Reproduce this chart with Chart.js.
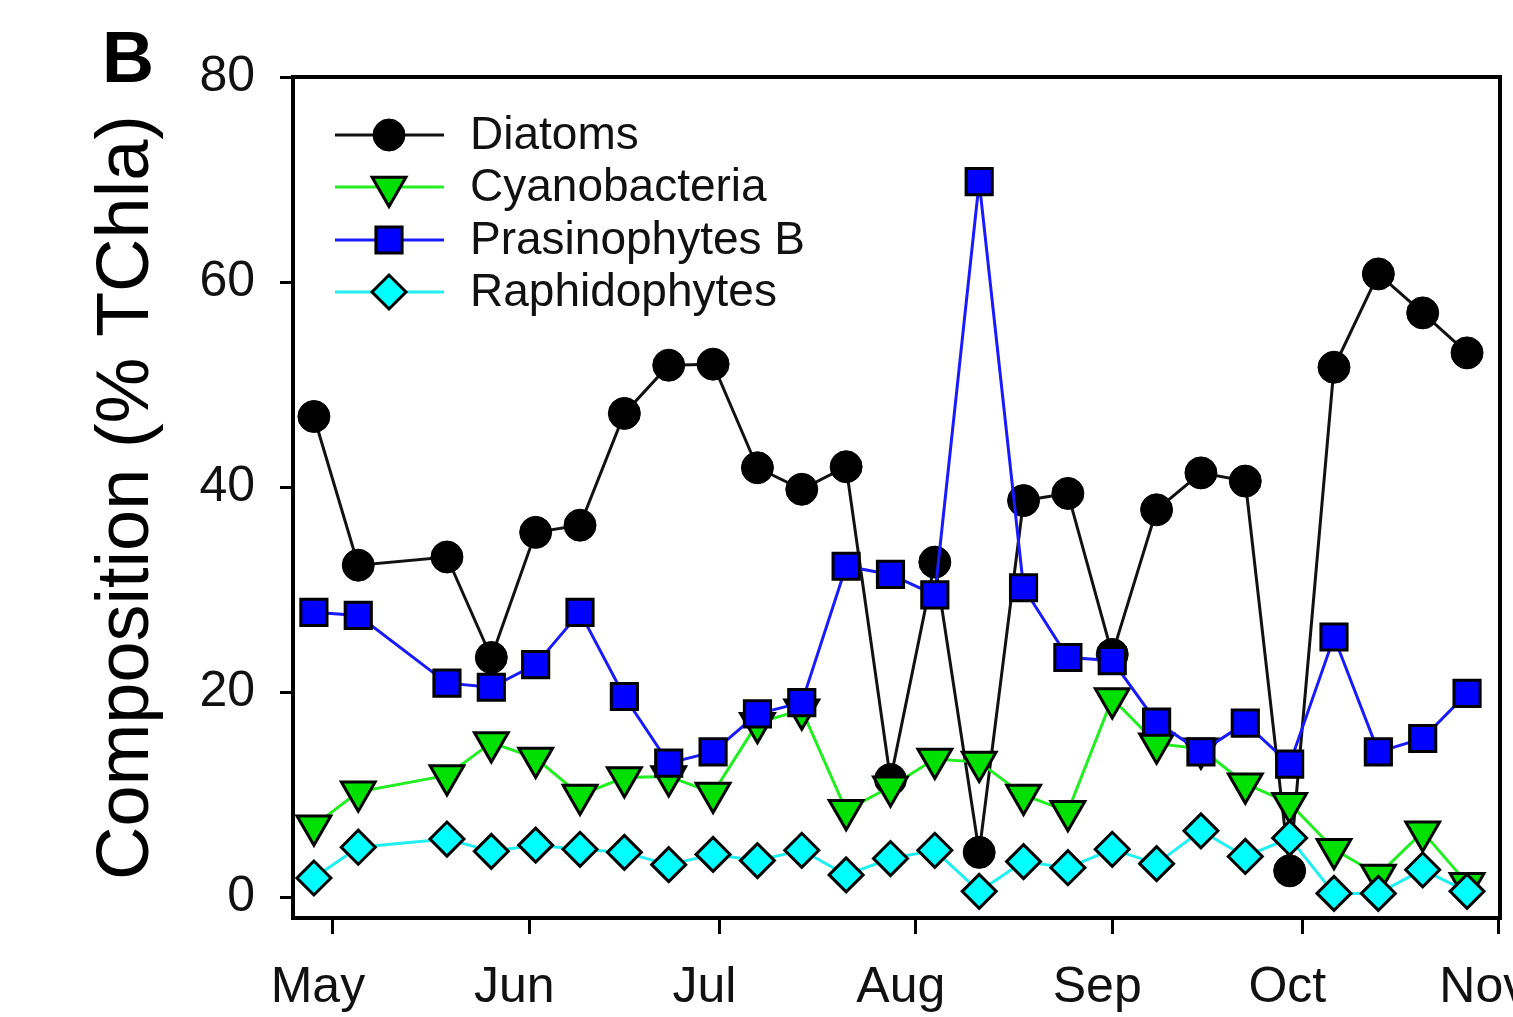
<!DOCTYPE html>
<html><head><meta charset="utf-8">
<script src="https://cdn.jsdelivr.net/npm/chart.js@4/dist/chart.umd.min.js"></script>
<style>html,body{margin:0;padding:0;background:#fff;overflow:hidden;} #wrap{width:1513px;height:1017px;position:relative;}</style>
</head><body><div id="wrap"><canvas id="c" width="1513" height="1017"></canvas></div>
<script>
// ---- data ----
const sampleDates = ["04-28","05-05","05-19","05-26","06-02","06-09","06-16","06-23","06-30","07-07","07-14","07-21","07-28","08-04","08-11","08-18","08-25","09-01","09-08","09-15","09-22","09-29","10-06","10-13","10-20","10-27"];
const monthTickDates = ["05-01","06-01","07-01","08-01","09-01","10-01","11-01"];
const monthLabels = ["May","Jun","Jul","Aug","Sep","Oct","Nov"];
const yTicks = [0,20,40,60,80];
const seriesNames = ["Diatoms","Cyanobacteria","Prasinophytes B","Raphidophytes"];
const diatoms = [46.9,32.4,33.2,23.4,35.6,36.3,47.2,51.9,52.0,41.9,39.8,42.0,11.5,32.7,4.4,38.7,39.4,23.7,37.8,41.4,40.6,2.6,51.7,60.8,57.0,53.1];
const cyanobacteria = [7.0,10.3,11.9,15.1,13.6,10.0,11.7,11.8,10.2,17.0,18.3,8.5,10.8,13.5,13.2,10.0,8.4,19.4,15.0,14.5,11.1,9.2,4.7,2.2,6.4,1.4];
const prasinophytesB = [27.8,27.5,20.9,20.5,22.7,27.8,19.6,13.1,14.2,17.9,19.0,32.3,31.5,29.5,69.8,30.2,23.4,23.1,17.1,14.2,17.0,13.0,25.4,14.2,15.5,19.9];
const raphidophytes = [1.9,4.9,5.7,4.5,5.1,4.7,4.4,3.2,4.2,3.6,4.6,2.2,3.8,4.6,0.6,3.5,2.9,4.7,3.3,6.5,4.0,5.8,0.4,0.4,2.7,0.6];
const panelLabel = "B";
const yAxisTitle = "Composition (% TChla)";

function dayOffset(md){ const p = md.split('-').map(Number); return (Date.UTC(2005,p[0]-1,p[1]) - Date.UTC(2005,4,1))/86400000; }
const xDays = sampleDates.map(dayOffset);
const monthDays = monthTickDates.map(dayOffset);
const pts = arr => arr.map((v,i)=>({x:xDays[i], y:v}));

const FONT = '"Liberation Sans", Arial, sans-serif';

const styles = [
  {line:'#111111', pointStyle:'circle', rotation:0, radius:16, fill:'#000000', bw:1},
  {line:'#22ee22', pointStyle:'triangle', rotation:180, radius:19.5, fill:'#00e000', bw:3},
  {line:'#1a1aff', pointStyle:'rect', rotation:0, radius:18.5, fill:'#0000ff', bw:3},
  {line:'#22f0f0', pointStyle:'rectRot', rotation:0, radius:17, fill:'#00ffff', bw:3}
];
const seriesData = [diatoms, cyanobacteria, prasinophytesB, raphidophytes];

const datasets = seriesNames.map((name,i)=>({
  label: name,
  data: pts(seriesData[i]),
  borderColor: styles[i].line,
  borderWidth: 3,
  pointStyle: styles[i].pointStyle,
  pointRotation: styles[i].rotation,
  pointRadius: styles[i].radius,
  pointBackgroundColor: styles[i].fill,
  pointBorderColor: '#000',
  pointBorderWidth: styles[i].bw,
  tension: 0,
  clip: false,
  order: 4 - i
}));

const framePlugin = {
  id: 'frame',
  beforeDatasetsDraw(chart){
    const {ctx, chartArea:a} = chart;
    ctx.save();
    ctx.lineWidth = 4; ctx.strokeStyle = '#000';
    ctx.strokeRect(a.left, a.top, a.right - a.left, a.bottom - a.top);
    ctx.restore();
  }
};

const legendPlugin = {
  id: 'customLegend',
  afterDatasetsDraw(chart){
    const ctx = chart.ctx;
    const rows = [135, 187, 240, 292];
    ctx.save();
    chart.data.datasets.forEach((ds,i)=>{
      const y = rows[i];
      ctx.strokeStyle = ds.borderColor; ctx.lineWidth = 3;
      ctx.beginPath(); ctx.moveTo(335,y); ctx.lineTo(444,y); ctx.stroke();
      ctx.fillStyle = ds.pointBackgroundColor; ctx.strokeStyle = ds.pointBorderColor; ctx.lineWidth = ds.pointBorderWidth;
      Chart.helpers.drawPoint(ctx, {pointStyle: ds.pointStyle, rotation: ds.pointRotation, radius: ds.pointRadius, borderWidth: ds.pointBorderWidth}, 389, y);
      ctx.fillStyle = '#111'; ctx.font = '46px ' + FONT; ctx.textBaseline = 'middle'; ctx.textAlign = 'left';
      ctx.fillText(ds.label, 470, y + 1);
    });
    ctx.restore();
  },
  afterDraw(chart){
    const ctx = chart.ctx;
    ctx.save();
    ctx.fillStyle = '#000'; ctx.font = 'bold 72px ' + FONT; ctx.textBaseline = 'middle'; ctx.textAlign = 'left';
    ctx.fillText(panelLabel, 102, 62);
    ctx.restore();
  }
};

new Chart(document.getElementById('c'), {
  type: 'line',
  data: { datasets },
  options: {
    responsive: false, animation: false, devicePixelRatio: 1,
    layout: { autoPadding: false, padding: { top: 77, right: 13, left: 0, bottom: 0 } },
    plugins: { legend: {display:false}, tooltip: {enabled:false} },
    scales: {
      x: {
        type: 'linear', min: -6.3, max: 184.2,
        afterBuildTicks: s => { s.ticks = monthDays.map(v=>({value:v})); },
        afterFit: s => { s.height = 99; s.paddingLeft = 0; s.paddingRight = 0; },
        ticks: {
          callback: v => monthLabels[monthDays.indexOf(v)],
          font: {size: 50, family: FONT}, color: '#111', padding: 24,
          labelOffset: -15, maxRotation: 0, autoSkip: false
        },
        grid: { drawOnChartArea: false, drawTicks: true, tickLength: 16, tickWidth: 3, tickColor: '#000' },
        border: { display: false }
      },
      y: {
        type: 'linear', min: -2, max: 80,
        afterBuildTicks: s => { s.ticks = yTicks.map(v=>({value:v})); },
        afterFit: s => { s.width = 293; s.paddingTop = 0; s.paddingBottom = 0; },
        ticks: { font: {size: 50, family: FONT}, color: '#111', padding: 25 },
        grid: { drawOnChartArea: false, drawTicks: true, tickLength: 13, tickWidth: 3, tickColor: '#000' },
        border: { display: false },
        title: { display: true, text: yAxisTitle, font: {size: 74, family: FONT}, color: '#000', padding: {top: 83, bottom: 0} }
      }
    }
  },
  plugins: [framePlugin, legendPlugin]
});
</script>
</body></html>
